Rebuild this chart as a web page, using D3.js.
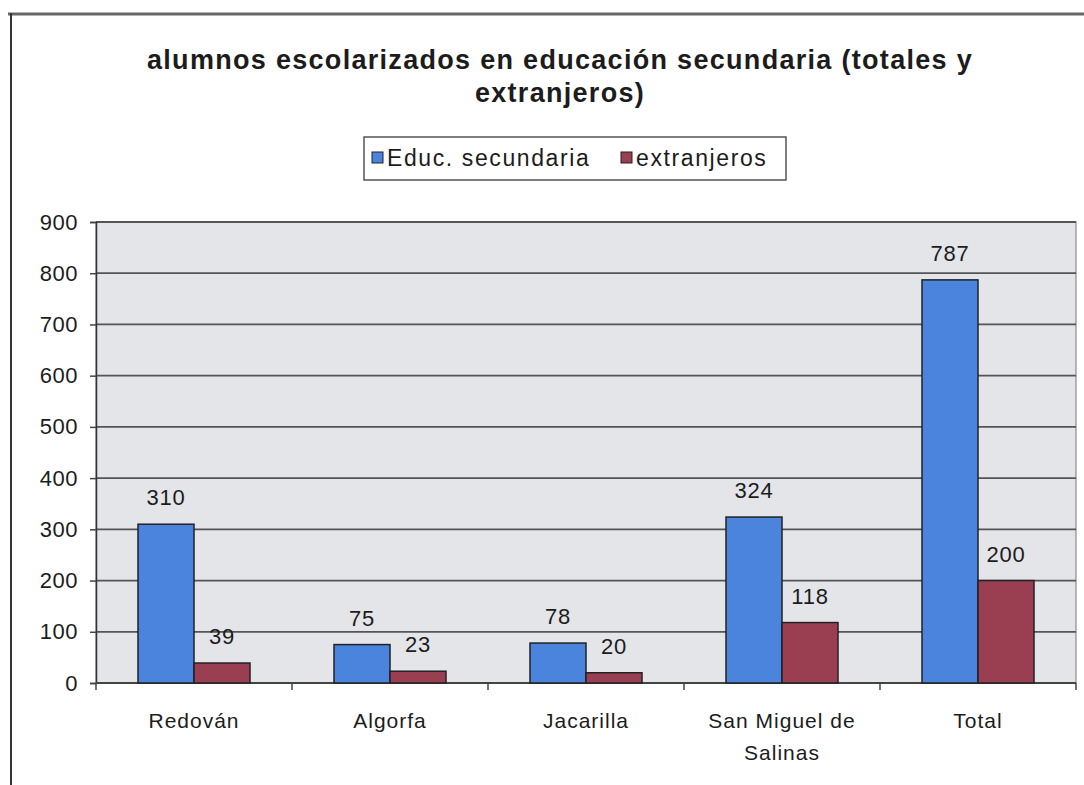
<!DOCTYPE html>
<html><head><meta charset="utf-8">
<script src="https://cdn.jsdelivr.net/npm/d3@7"></script>
<style>
html,body{margin:0;padding:0;background:#fff;}
svg text{font-family:"Liberation Sans",Arial,sans-serif;fill:#1c1c1c;}
</style></head>
<body>
<svg id="chart" width="1084" height="785"></svg>
<script>
const categories = [["Redován"], ["Algorfa"], ["Jacarilla"], ["San Miguel de", "Salinas"], ["Total"]];
const seriesNames = ["Educ. secundaria", "extranjeros"];
const educSecundaria = [310, 75, 78, 324, 787];
const extranjeros = [39, 23, 20, 118, 200];
const yTicks = [0, 100, 200, 300, 400, 500, 600, 700, 800, 900];
const titleLines = ["alumnos escolarizados en educación secundaria (totales y", "extranjeros)"];

const colors = ["#4a84dc", "#9a3e52"];
const svg = d3.select("#chart");

// outer frame
svg.append("line").attr("x1", 8).attr("x2", 1084).attr("y1", 14).attr("y2", 14).attr("stroke", "#666").attr("stroke-width", 3);
svg.append("line").attr("x1", 11).attr("x2", 11).attr("y1", 13).attr("y2", 785).attr("stroke", "#333").attr("stroke-width", 2);

const plot = {left: 96, right: 1076, top: 222, bottom: 683};
const x = d3.scaleBand().domain(d3.range(categories.length)).range([plot.left, plot.right]);
const y = d3.scaleLinear().domain([0, 900]).range([plot.bottom, plot.top]);
const bw = x.bandwidth() / 3.5;

// plot background
svg.append("rect").attr("x", plot.left).attr("y", plot.top).attr("width", plot.right - plot.left).attr("height", plot.bottom - plot.top)
  .attr("fill", "#e3e5e9").attr("stroke", "#777").attr("stroke-width", 1);

// gridlines
svg.append("g").selectAll("line").data(yTicks.filter(d => d > 0)).join("line")
  .attr("x1", plot.left).attr("x2", plot.right).attr("y1", d => y(d)).attr("y2", d => y(d))
  .attr("stroke", "#555").attr("stroke-width", 1.8);

// y axis
const yAxis = svg.append("g").attr("transform", `translate(${plot.left},0)`)
  .call(d3.axisLeft(y).tickValues(yTicks).tickSize(6).tickPadding(12));
yAxis.select(".domain").attr("stroke", "#333").attr("stroke-width", 1.5);
yAxis.selectAll(".tick line").attr("stroke", "#444").attr("stroke-width", 1.5);
yAxis.selectAll(".tick text").attr("font-size", 22).attr("fill", "#1c1c1c").attr("letter-spacing", 0.5)
  .attr("font-family", "Liberation Sans, Arial, sans-serif");

// x axis baseline + ticks at category boundaries
const xg = svg.append("g");
xg.append("line").attr("x1", plot.left).attr("x2", plot.right).attr("y1", plot.bottom).attr("y2", plot.bottom).attr("stroke", "#444").attr("stroke-width", 1.8);
xg.selectAll(".bt").data(d3.range(categories.length + 1)).join("line").attr("class", "bt")
  .attr("x1", i => i < categories.length ? x(i) : plot.right).attr("x2", i => i < categories.length ? x(i) : plot.right)
  .attr("y1", plot.bottom).attr("y2", plot.bottom + 7).attr("stroke", "#444").attr("stroke-width", 1.5);

// category labels
categories.forEach((lines, i) => {
  const cx = x(i) + x.bandwidth() / 2;
  const t = svg.append("text").attr("x", cx).attr("y", 728).attr("text-anchor", "middle").attr("font-size", 21).attr("letter-spacing", 1);
  lines.forEach((ln, k) => t.append("tspan").attr("x", cx).attr("dy", k === 0 ? 0 : 32).text(ln));
});

// bars
const series = [educSecundaria, extranjeros];
series.forEach((vals, s) => {
  const g = svg.append("g");
  g.selectAll("rect").data(vals).join("rect")
    .attr("x", (d, i) => x(i) + x.bandwidth() / 2 - bw + s * bw)
    .attr("y", d => y(d)).attr("width", bw).attr("height", d => y(0) - y(d))
    .attr("fill", colors[s]).attr("stroke", "#222").attr("stroke-width", 1.5);
  g.selectAll("text").data(vals).join("text")
    .attr("x", (d, i) => x(i) + x.bandwidth() / 2 - bw + s * bw + bw / 2)
    .attr("y", d => y(d) - 19).attr("text-anchor", "middle").attr("font-size", 22).attr("letter-spacing", 0.8)
    .text(d => d);
});

// title
titleLines.forEach((ln, k) => {
  svg.append("text").attr("x", 560).attr("y", 69 + k * 33).attr("text-anchor", "middle")
    .attr("font-size", 27).attr("font-weight", "bold").attr("letter-spacing", 1.3).text(ln);
});

// legend
const lg = svg.append("g");
lg.append("rect").attr("x", 364).attr("y", 137).attr("width", 422).attr("height", 43).attr("fill", "#fff").attr("stroke", "#555").attr("stroke-width", 1.5);
const legendX = [372, 621];
seriesNames.forEach((name, s) => {
  lg.append("rect").attr("x", legendX[s]).attr("y", 152).attr("width", 11).attr("height", 11).attr("fill", colors[s]).attr("stroke", "#222").attr("stroke-width", 1);
  lg.append("text").attr("x", legendX[s] + 15).attr("y", 166).attr("font-size", 23).attr("letter-spacing", 1.6).text(name);
});
</script>
</body></html>
